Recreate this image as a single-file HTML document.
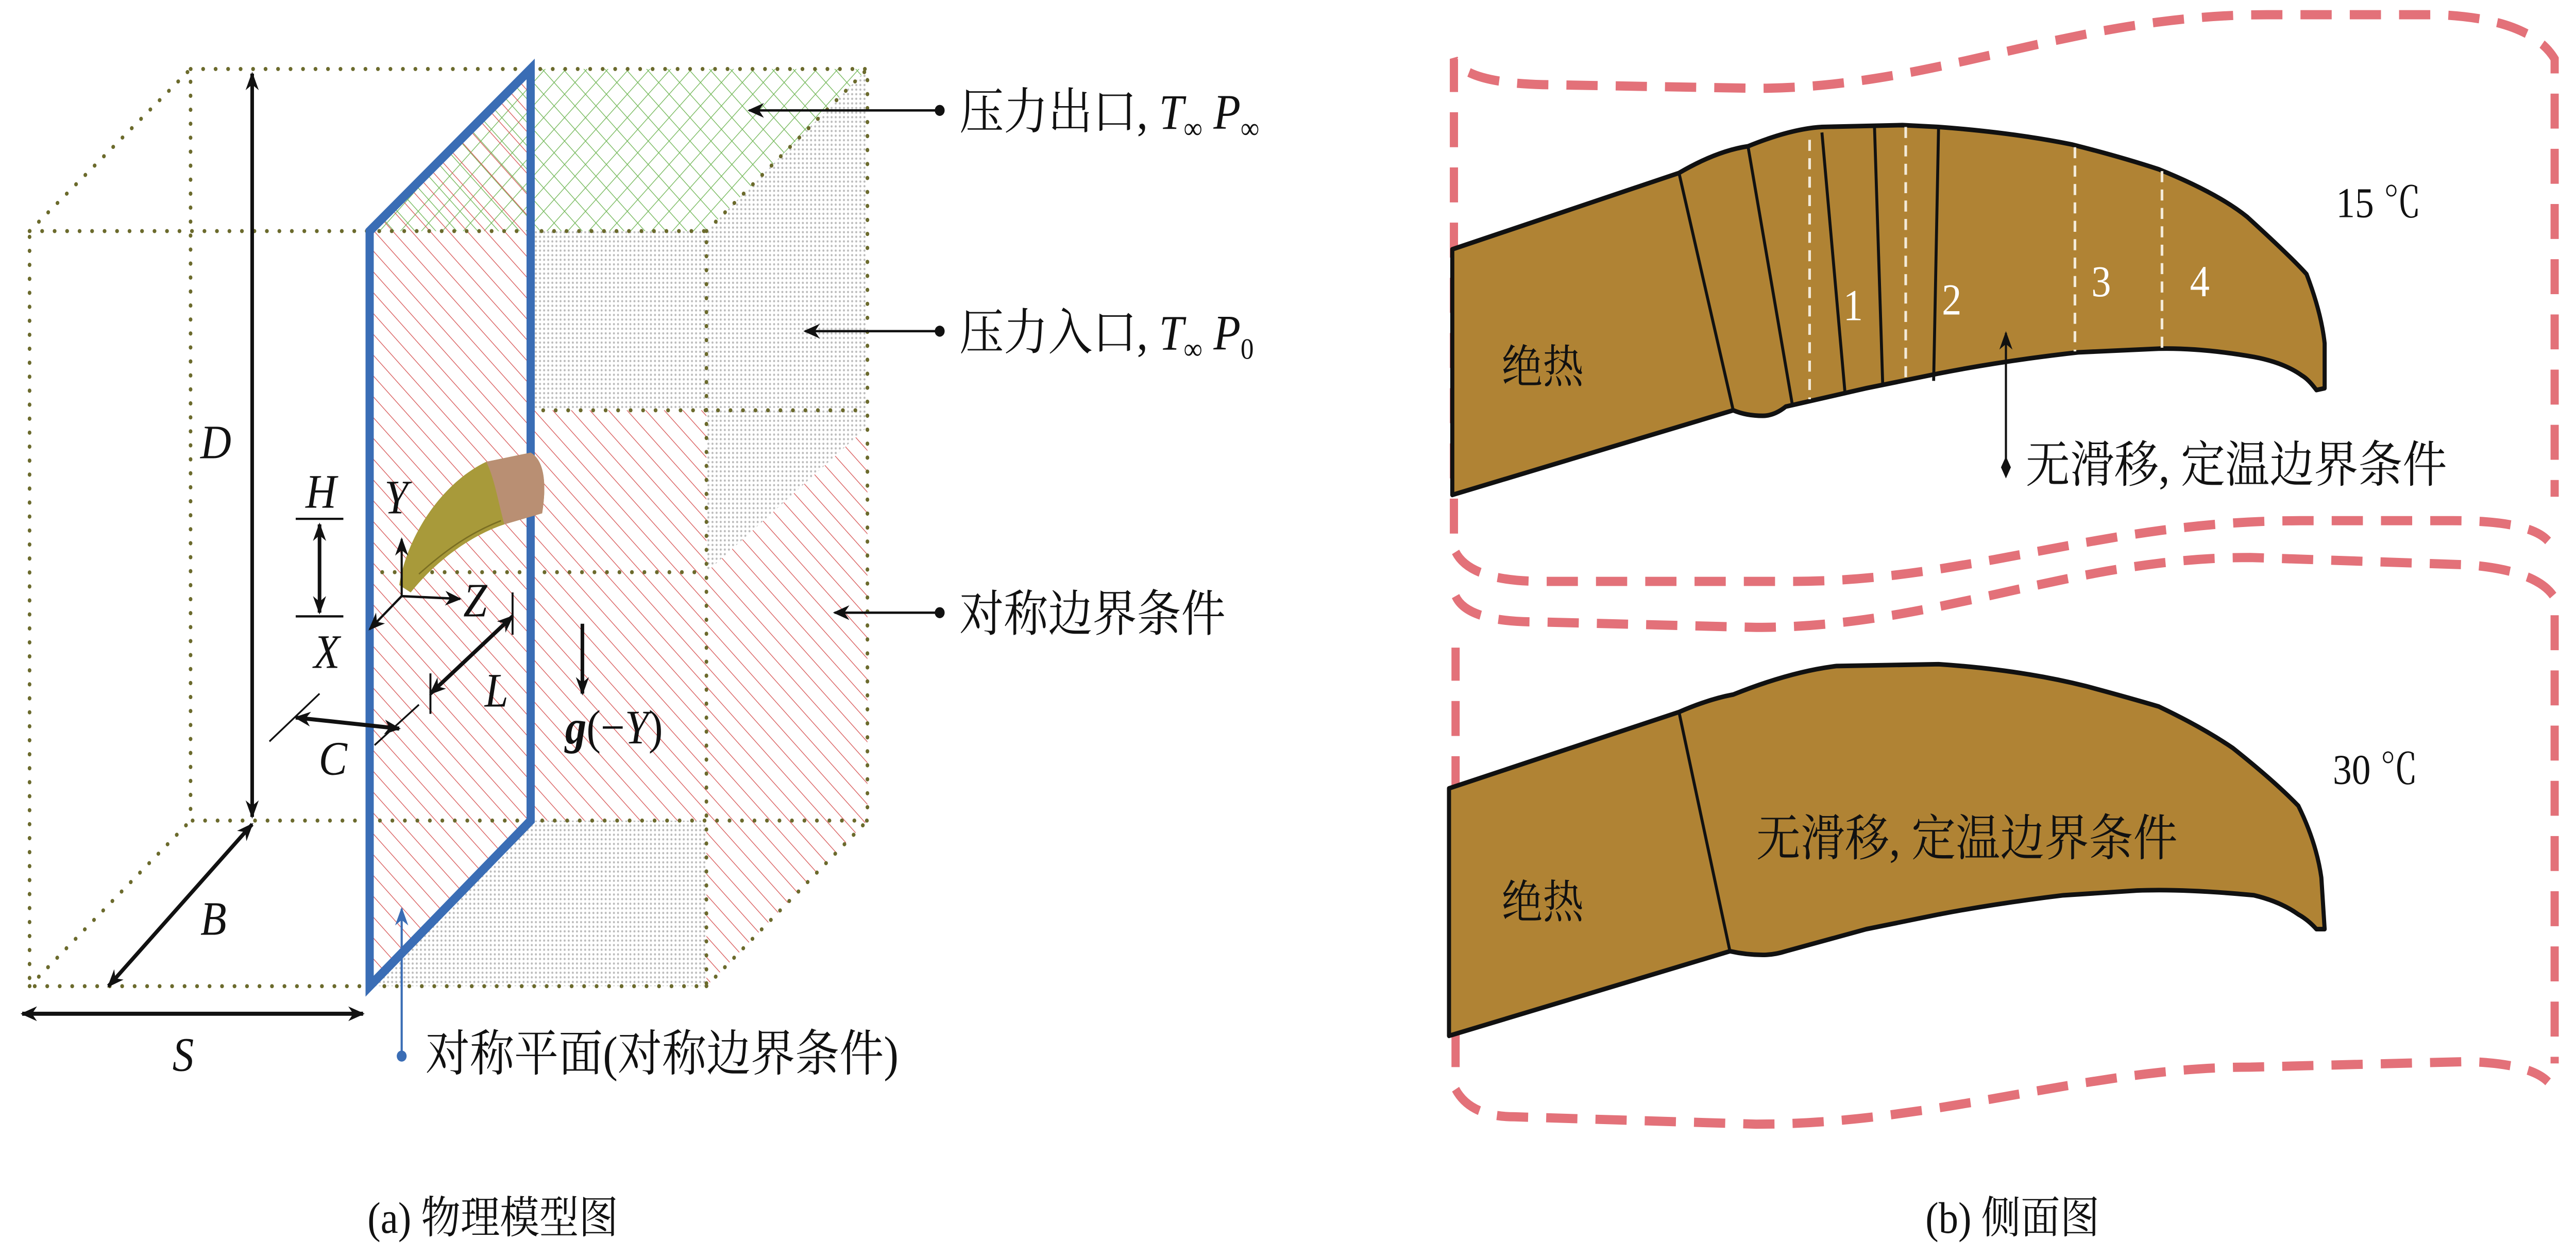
<!DOCTYPE html>
<html><head><meta charset="utf-8">
<style>html,body{margin:0;padding:0;background:#fff;overflow:hidden;width:100vw;height:100vh}
svg{display:block;width:100vw;height:100vh}
text{font-family:"Liberation Serif","Noto Serif CJK SC",serif;fill:#111}
.it{font-style:italic}</style></head>
<body>
<svg viewBox="0 0 1568 683.2" preserveAspectRatio="none" xmlns="http://www.w3.org/2000/svg">
<defs>
<pattern id="red" patternUnits="userSpaceOnUse" width="8" height="8" patternTransform="rotate(-45)">
<line x1="0" y1="0" x2="0" y2="8" stroke="#d85a5a" stroke-width="0.8"/></pattern>
<pattern id="grn" patternUnits="userSpaceOnUse" width="9" height="9" patternTransform="rotate(45)">
<line x1="0" y1="0" x2="0" y2="9" stroke="#74b85a" stroke-width="0.8"/>
<line x1="0" y1="0" x2="9" y2="0" stroke="#74b85a" stroke-width="0.8"/></pattern>
<pattern id="gry" patternUnits="userSpaceOnUse" width="2.5" height="2.5">
<rect width="2.5" height="2.5" fill="#fff"/><circle cx="1.2" cy="1.2" r="0.6" fill="#bbb"/></pattern>
<marker id="ah" markerWidth="10" markerHeight="10" refX="9" refY="5" orient="auto" markerUnits="userSpaceOnUse">
<path d="M0,1 L10,5 L0,9 L3,5 Z" fill="#111"/></marker>
<marker id="ahs" markerWidth="10" markerHeight="10" refX="1" refY="5" orient="auto" markerUnits="userSpaceOnUse">
<path d="M10,1 L0,5 L10,9 L7,5 Z" fill="#111"/></marker>
<marker id="ahb" markerWidth="10" markerHeight="10" refX="9" refY="5" orient="auto" markerUnits="userSpaceOnUse">
<path d="M0,1 L10,5 L0,9 L3,5 Z" fill="#3a6db5"/></marker>
</defs>

<polygon points="323,125.6 430,125.6 430,223 323,223" fill="url(#gry)"/>
<polygon points="430,125.6 528,37.5 528,232 430,311" fill="url(#gry)"/>
<polygon points="323,446 430,446 430,536 225,536" fill="url(#gry)"/>
<polygon points="225,125.6 323,37.5 528,37.5 430,125.6" fill="url(#grn)"/>
<polygon points="225,125.6 323,37.5 323,446 225,536" fill="url(#red)"/>
<polygon points="323,223 430,223 430,446 323,446" fill="url(#red)"/>
<polygon points="430,311 528,232 528,446 430,536" fill="url(#red)"/>

<g fill="none" stroke="#6b6a2c" stroke-width="2.2" stroke-dasharray="0.1 7.5" stroke-linecap="round">
<path d="M116,37.5 L528,37.5 L528,446 L116,446 Z"/>
<path d="M18,125.6 L430,125.6 L430,536 L18,536 Z"/>
<path d="M18,125.6 L116,37.5 M18,536 L116,446 M430,125.6 L528,37.5 M430,536 L528,446"/>
<path d="M323,223 L528,223 M225,311 L430,311"/>
</g>
<polygon points="225,125.6 323,37.5 323,446 225,536" fill="none" stroke="#3a6db5" stroke-width="5"/>

<path d="M243,318 C248,290 270,262 296,251 L323,246 C331,250 333,262 330,279 L307,285 C290,290 268,302 250,322 Z" fill="#a89a3a"/>
<path d="M296,251 L323,246 C331,250 333,262 330,279 L307,285 C303,272 301,260 296,251 Z" fill="#b98f73"/>
<path d="M255,312 C270,300 285,290 305,283" stroke="#7a6e22" stroke-width="0.8" fill="none"/>

<g stroke="#111" stroke-width="2.2" fill="none">
<line x1="153.5" y1="40" x2="153.5" y2="444" marker-start="url(#ahs)" marker-end="url(#ah)"/>
<line x1="194.5" y1="285" x2="194.5" y2="333" marker-start="url(#ahs)" marker-end="url(#ah)"/>
<line x1="180" y1="282" x2="209" y2="282" stroke-width="1.2"/>
<line x1="180" y1="335" x2="209" y2="335" stroke-width="1.2"/>
<line x1="262" y1="377" x2="312" y2="335" marker-start="url(#ahs)" marker-end="url(#ah)"/>
<line x1="312" y1="322" x2="312" y2="345" stroke-width="1.2"/>
<line x1="262" y1="366" x2="262" y2="388" stroke-width="1.2"/>
<line x1="255" y1="383" x2="228" y2="405" stroke-width="1"/>
<line x1="180" y1="390" x2="243" y2="396" marker-start="url(#ahs)" marker-end="url(#ah)"/>
<line x1="194.5" y1="377" x2="164" y2="403" stroke-width="1"/>
<line x1="354.5" y1="339" x2="354.5" y2="377" marker-end="url(#ah)"/>
<line x1="153.5" y1="448" x2="66" y2="536" marker-start="url(#ahs)" marker-end="url(#ah)"/>
<line x1="13.5" y1="551" x2="221" y2="551" marker-start="url(#ahs)" marker-end="url(#ah)"/>
<g stroke-width="1.3">
<line x1="244.5" y1="324" x2="244.5" y2="293" marker-end="url(#ah)"/>
<line x1="244.5" y1="324" x2="280" y2="325.5" marker-end="url(#ah)"/>
<line x1="244.5" y1="324" x2="225" y2="342" marker-end="url(#ah)"/>
</g>
</g>
<g font-size="26">
<text x="122" y="249" class="it">D</text>
<text x="186" y="276" class="it">H</text>
<text x="234" y="279" class="it">Y</text>
<text x="282" y="335" class="it">Z</text>
<text x="191" y="363" class="it">X</text>
<text x="295" y="384" class="it">L</text>
<text x="194" y="421" class="it">C</text>
<text x="122" y="508" class="it">B</text>
<text x="105" y="582" class="it">S</text>
</g>
<text x="344" y="404" font-size="26"><tspan font-weight="bold" font-style="italic">g</tspan>(−<tspan font-style="italic">Y</tspan>)</text>

<line x1="244.5" y1="574" x2="244.5" y2="494" stroke="#3a6db5" stroke-width="1.3" marker-end="url(#ahb)"/>
<circle cx="244.5" cy="574" r="3" fill="#3a6db5"/>
<text x="259" y="582" font-size="27">对称平面(对称边界条件)</text>

<g stroke="#111" stroke-width="1.3">
<line x1="572" y1="60" x2="456" y2="60" marker-end="url(#ah)"/>
<line x1="572" y1="180" x2="490" y2="180" marker-end="url(#ah)"/>
<line x1="572" y1="333" x2="508" y2="333" marker-end="url(#ah)"/>
</g>
<circle cx="572" cy="60" r="3" fill="#111"/>
<circle cx="572" cy="180" r="3" fill="#111"/>
<circle cx="572" cy="333" r="3" fill="#111"/>
<text x="584" y="70" font-size="27">压力出口, <tspan font-style="italic">T</tspan><tspan font-size="16" dy="5">∞</tspan><tspan dy="-5"> </tspan><tspan font-style="italic">P</tspan><tspan font-size="16" dy="5">∞</tspan></text>
<text x="584" y="190" font-size="27">压力入口, <tspan font-style="italic">T</tspan><tspan font-size="16" dy="5">∞</tspan><tspan dy="-5"> </tspan><tspan font-style="italic">P</tspan><tspan font-size="16" dy="5">0</tspan></text>
<text x="584" y="343" font-size="27">对称边界条件</text>

<text x="300" y="670" font-size="24" text-anchor="middle">(a) 物理模型图</text>
<text x="1225" y="670" font-size="24" text-anchor="middle">(b) 侧面图</text>

<g fill="none" stroke="#e37179" stroke-width="5" stroke-dasharray="19 11">
<path d="M885,290 L885,32 Q892,45 939,46 L1069,48 C1180,48 1260,8 1380,8 L1484,8 Q1540,10 1555,32 L1555,270"/>
<path d="M886,300 Q895,316 939,316 L1091,316 C1200,316 1280,283 1400,283 L1493,283 Q1540,283 1551,294"/>
<path d="M886,324 Q893,338 935,338 L1069,341 C1180,341 1260,303 1370,303 L1502,307 Q1545,310 1555,325 L1555,578"/>
<path d="M886,580 L886,352"/>
<path d="M886,592 Q895,607 922,607 L1069,611 C1180,611 1270,580 1370,580 L1502,577 Q1540,578 1551,588"/>
</g>

<path d="M884,135.5 L1022,94 Q1045,82 1064,79.5 Q1090,70 1109,69 L1158,68 L1180,69 Q1225,72 1261,78.5 Q1290,85 1314,92 Q1350,105 1368,118 Q1395,140 1404,149 Q1413,170 1415,186.6 L1415,211 L1410,212 Q1405,206 1401,204 Q1390,197 1372,194 Q1340,189 1314,189.5 L1265,191.5 Q1220,196 1180,203 Q1158,207 1136,211 L1087,221 Q1080,226 1073,226 Q1063,226 1055,223 L884,269 Z" fill="#b08334" stroke="#111" stroke-width="2.5" stroke-linejoin="round"/>
<g stroke="#111" stroke-width="1.8">
<line x1="1022" y1="94" x2="1055" y2="223"/>
<line x1="1064" y1="79.5" x2="1091" y2="220"/>
<line x1="1109" y1="72" x2="1123" y2="213"/>
<line x1="1141" y1="69" x2="1146" y2="209"/>
<line x1="1180" y1="69" x2="1177" y2="207"/>
</g>
<g stroke="#f3ead8" stroke-width="1.6" stroke-dasharray="6 4">
<line x1="1101.5" y1="76" x2="1101.5" y2="217"/>
<line x1="1160" y1="69" x2="1160" y2="207"/>
<line x1="1263" y1="80" x2="1263" y2="191"/>
<line x1="1316" y1="93" x2="1316" y2="190"/>
</g>
<g font-size="24" text-anchor="middle">
<text x="1128" y="174" fill="#fff" style="fill:#fff">1</text>
<text x="1188" y="171" style="fill:#fff">2</text>
<text x="1279" y="161" style="fill:#fff">3</text>
<text x="1339" y="161" style="fill:#fff">4</text>
</g>
<text x="914" y="208" font-size="25">绝热</text>
<text x="1422" y="118" font-size="23">15 ℃</text>
<line x1="1221" y1="253" x2="1221" y2="181" stroke="#111" stroke-width="1.3" marker-end="url(#ah)"/>
<path d="M1221,248 L1224,254 L1221,260 L1218,254 Z" fill="#111"/>
<text x="1233" y="262" font-size="27">无滑移, 定温边界条件</text>

<path d="M882,428.5 L1022,387 Q1040,380 1055,377.5 Q1090,365 1118,362 L1180,361 Q1230,364 1270,373 Q1295,379 1314,384 Q1340,395 1359,406.5 Q1385,425 1399,438 Q1410,458 1413,477 L1415,505 L1410,505 Q1405,500 1399,497 Q1388,490 1372,486.6 Q1330,483 1301,484 L1256,486.6 Q1215,491 1180,497 Q1158,501 1136,505 L1087,517 Q1080,519 1073,519 Q1063,519 1053,517 L882,563 Z" fill="#b08334" stroke="#111" stroke-width="2.5" stroke-linejoin="round"/>
<line x1="1022" y1="387" x2="1053" y2="517" stroke="#111" stroke-width="1.8"/>
<text x="914" y="499" font-size="25">绝热</text>
<text x="1069" y="465" font-size="27">无滑移, 定温边界条件</text>
<text x="1420" y="426" font-size="23">30 ℃</text>
</svg>
</body></html>
